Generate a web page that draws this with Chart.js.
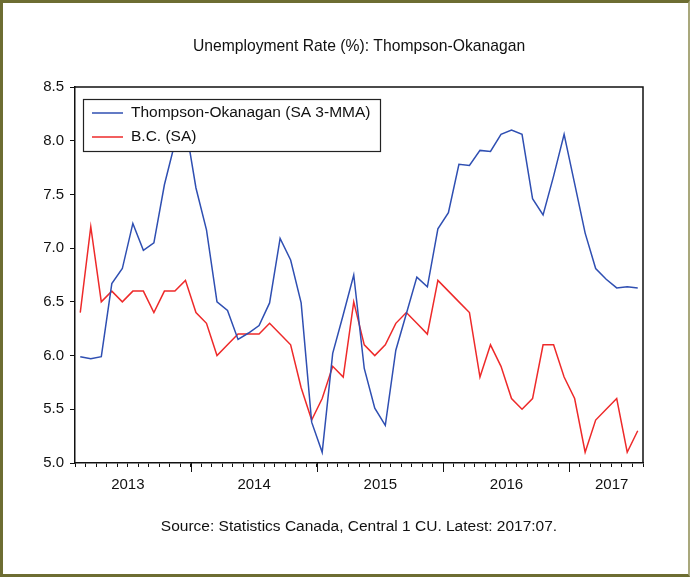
<!DOCTYPE html>
<html lang="en">
<head>
<meta charset="UTF-8">
<title>Unemployment Rate (%): Thompson-Okanagan</title>
<script src="https://cdn.jsdelivr.net/npm/chart.js@4.4.0/dist/chart.umd.min.js"></script>
<style>
    * { margin: 0; padding: 0; box-sizing: border-box; }
    body { background: #fff; width: 691px; height: 579px; overflow: hidden; position: relative; }
    .chart-container { position: absolute; left: 0; top: 0; width: 691px; height: 579px; }
    .frame {
        position: absolute; left: 0; top: 0; width: 690px; height: 577px;
        border: 3px solid #6d6d32; border-right: 2px solid #a9a87c;
        pointer-events: none;
    }
</style>
</head>
<body>
<div class="chart-container"><canvas id="rateChart"></canvas></div>
<div class="frame"></div>
<script>
// monthly observations, Feb 2013 .. Jul 2017
const months = [
    '2013:02','2013:03','2013:04','2013:05','2013:06','2013:07','2013:08','2013:09','2013:10','2013:11','2013:12',
    '2014:01','2014:02','2014:03','2014:04','2014:05','2014:06','2014:07','2014:08','2014:09','2014:10','2014:11','2014:12',
    '2015:01','2015:02','2015:03','2015:04','2015:05','2015:06','2015:07','2015:08','2015:09','2015:10','2015:11','2015:12',
    '2016:01','2016:02','2016:03','2016:04','2016:05','2016:06','2016:07','2016:08','2016:09','2016:10','2016:11','2016:12',
    '2017:01','2017:02','2017:03','2017:04','2017:05','2017:06','2017:07'
];
const thompsonOkanagan = [
    5.99, 5.97, 5.99, 6.67, 6.81, 7.23, 6.98, 7.05, 7.59, 7.98, 8.15,
    7.56, 7.17, 6.50, 6.42, 6.15, 6.21, 6.28, 6.49, 7.09, 6.89, 6.49, 5.38,
    5.10, 6.02, 6.38, 6.75, 5.88, 5.51, 5.35, 6.05, 6.39, 6.73, 6.64, 7.18,
    7.33, 7.78, 7.77, 7.91, 7.90, 8.06, 8.10, 8.06, 7.46, 7.31, 7.67, 8.06,
    7.60, 7.14, 6.81, 6.71, 6.63, 6.64, 6.63
];
const bc = [
    6.4, 7.2, 6.5, 6.6, 6.5, 6.6, 6.6, 6.4, 6.6, 6.6, 6.7,
    6.4, 6.3, 6.0, 6.1, 6.2, 6.2, 6.2, 6.3, 6.2, 6.1, 5.7, 5.4,
    5.6, 5.9, 5.8, 6.5, 6.1, 6.0, 6.1, 6.3, 6.4, 6.3, 6.2, 6.7,
    6.6, 6.5, 6.4, 5.8, 6.1, 5.9, 5.6, 5.5, 5.6, 6.1, 6.1, 5.8,
    5.6, 5.1, 5.4, 5.5, 5.6, 5.1, 5.3
];
const yearLabels = ['2013', '2014', '2015', '2016', '2017'];
const yearLabelMonths = ['2013:07', '2014:07', '2015:07', '2016:07', '2017:05'];
const seriesNames = ['Thompson-Okanagan (SA 3-MMA)', 'B.C. (SA)'];
const titleText = 'Unemployment Rate (%): Thompson-Okanagan';
const sourceText = 'Source: Statistics Canada, Central 1 CU. Latest: 2017:07.';

const FONT = 'Liberation Sans, Arial, sans-serif';
Chart.defaults.font.family = FONT;
Chart.defaults.color = '#111';

// title/source centred on the plot, frame on top/right, long ticks at year starts, legend box
const framePlugin = {
    id: 'frame',
    afterDatasetsDraw(chart) {
        const { ctx } = chart;
        const bx = 83, by = 99, bw = 297, bh = 52;
        ctx.save();
        ctx.fillStyle = '#fff';
        ctx.fillRect(bx, by, bw, bh);
        ctx.strokeStyle = '#222';
        ctx.lineWidth = 1.2;
        ctx.strokeRect(bx + 0.5, by + 0.5, bw, bh);
        ctx.font = '15.5px ' + FONT;
        ctx.textBaseline = 'middle';
        chart.data.datasets.forEach((ds, i) => {
            const y = by + 14 + i * 24;
            ctx.strokeStyle = ds.borderColor;
            ctx.lineWidth = 1.5;
            ctx.beginPath();
            ctx.moveTo(bx + 9, y);
            ctx.lineTo(bx + 40, y);
            ctx.stroke();
            ctx.fillStyle = '#111';
            ctx.fillText(ds.label, bx + 48, y);
        });
        ctx.restore();
    },
    afterDraw(chart) {
        const { ctx, chartArea: a, scales: { x } } = chart;
        ctx.save();
        ctx.strokeStyle = '#111';
        ctx.lineWidth = 1.5;
        ctx.beginPath();
        ctx.moveTo(a.left, a.top);
        ctx.lineTo(a.right, a.top);
        ctx.lineTo(a.right, a.bottom);
        ctx.stroke();
        const step = x.getPixelForTick(1) - x.getPixelForTick(0);
        ctx.lineWidth = 1;
        months.forEach((m, i) => {
            if (m.endsWith(':01')) {
                const px = Math.round(x.getPixelForTick(i) - step / 2) + 0.5;
                ctx.beginPath();
                ctx.moveTo(px, a.bottom);
                ctx.lineTo(px, a.bottom + 9);
                ctx.stroke();
            }
        });
        const cx = (a.left + a.right) / 2;
        ctx.fillStyle = '#111';
        ctx.textAlign = 'center';
        ctx.textBaseline = 'middle';
        ctx.font = '15.7px ' + FONT;
        ctx.fillText(titleText, cx, 47);
        ctx.font = '15.5px ' + FONT;
        ctx.fillText(sourceText, cx, 527);
        ctx.restore();
    }
};

const ctx = document.getElementById('rateChart').getContext('2d');
new Chart(ctx, {
    type: 'line',
    data: {
        labels: months,
        datasets: [
            { label: seriesNames[0], data: thompsonOkanagan, borderColor: '#2f4fb2', borderWidth: 1.5, pointRadius: 0, tension: 0 },
            { label: seriesNames[1], data: bc, borderColor: '#ee2a2a', borderWidth: 1.5, pointRadius: 0, tension: 0 }
        ]
    },
    options: {
        responsive: true,
        maintainAspectRatio: false,
        animation: false,
        layout: { padding: { left: 0, right: 48, top: 87, bottom: 76 } },
        plugins: {
            legend: { display: false },
            tooltip: { enabled: false }
        },
        scales: {
            x: {
                type: 'category',
                offset: true,
                grid: { display: true, drawOnChartArea: false, offset: true, tickLength: 4, color: '#111', lineWidth: 1 },
                border: { color: '#111', width: 1.5 },
                ticks: {
                    autoSkip: false,
                    maxRotation: 0,
                    padding: 9,
                    labelOffset: -5,
                    font: { size: 15 },
                    callback: function(value, index) {
                        const k = yearLabelMonths.indexOf(months[index]);
                        return k >= 0 ? yearLabels[k] : '';
                    }
                },
                afterFit: function(scale) { scale.height = 40; }
            },
            y: {
                min: 5.0,
                max: 8.5,
                grid: { display: true, drawOnChartArea: false, tickLength: 5, color: '#111' },
                border: { color: '#111', width: 1.5 },
                ticks: {
                    stepSize: 0.5,
                    padding: 6,
                    font: { size: 15 },
                    callback: function(value) { return value.toFixed(1); }
                },
                afterFit: function(scale) { scale.width = 75; }
            }
        }
    },
    plugins: [framePlugin]
});
</script>
</body>
</html>
